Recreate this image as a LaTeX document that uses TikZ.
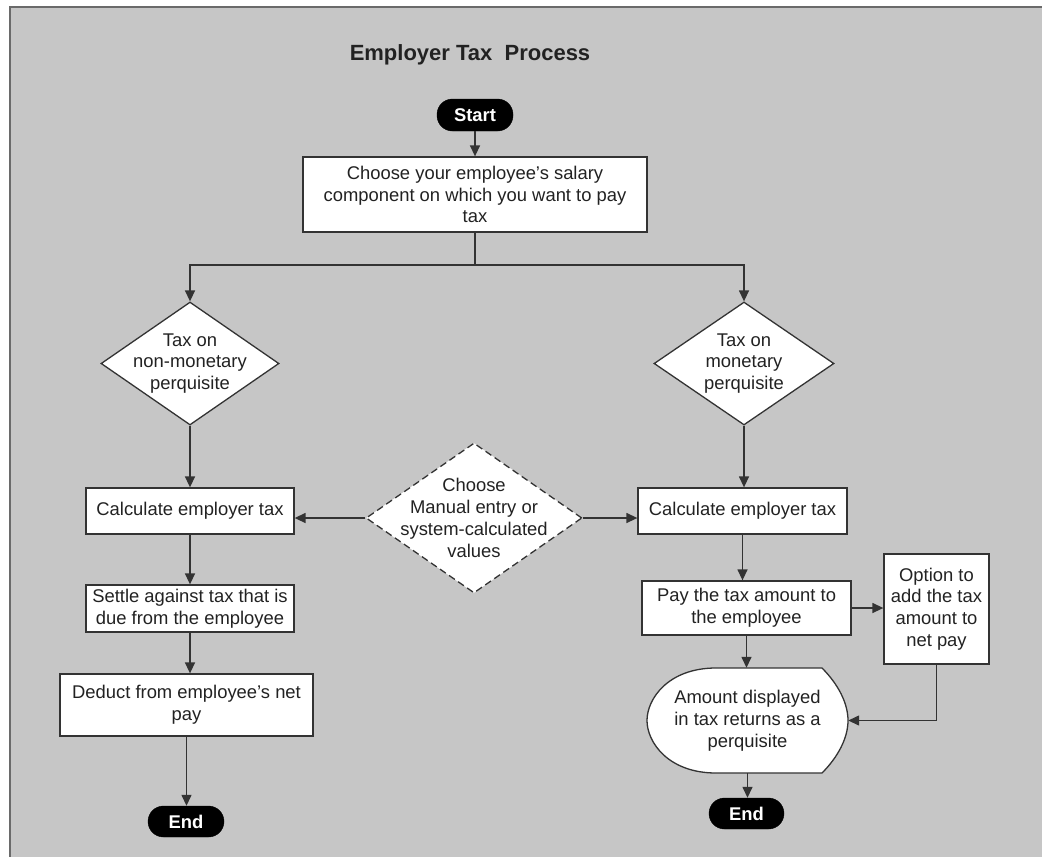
\documentclass[tikz,border=0pt]{standalone}
\usepackage{fontspec}
\setmainfont{Liberation Sans}
\usetikzlibrary{arrows.meta,shapes.geometric,calc}
\definecolor{bgc}{HTML}{C6C6C6}
\definecolor{lnc}{HTML}{333333}
\definecolor{framec}{HTML}{6A6A6A}
\definecolor{txc}{HTML}{222222}
\begin{document}
\begin{tikzpicture}[x=1pt,y=-1pt,
  body/.style={font=\fontsize{18.4}{21.8}\selectfont, text=txc, align=center},
  box/.style={body, draw=lnc, line width=1.3pt, fill=white, inner sep=0pt},
  pill/.style={draw=black, fill=black, rounded corners=15.5pt, text=white,
    font=\bfseries\fontsize{18.4}{21.6}\selectfont, inner sep=0pt,
    minimum width=76pt, minimum height=32pt},
  dia/.style={diamond, draw=lnc, line width=1.3pt, fill=white, inner sep=0pt},
  arr/.style={draw=lnc, line width=1.4pt, -{Triangle[length=11pt,width=10pt]}},
  conn/.style={draw=lnc, line width=1.4pt}
]
\useasboundingbox (0,0) rectangle (1042,857);
\fill[white] (0,0) rectangle (1042,857);
\fill[bgc] (10,7) rectangle (1042,857);
\draw[framec, line width=2pt] (10,857) -- (10,7) -- (1042,7);

% title
\node[font=\bfseries\fontsize{22}{26}\selectfont, text=txc, anchor=base] (title) at (470,60) {Employer Tax\ \ Process};

% top
\node[pill] (start) at (475,115) {Start};
\node[box, minimum width=344pt, minimum height=75pt] (choose) at (475,194.5)
  {Choose your employee’s salary\\component on which you want to pay\\tax};
\coordinate (split) at (475,265);

% diamonds
\node[dia, minimum width=178pt, minimum height=123pt] (d1) at (190,363.5) {};
\node[body] at (d1) {Tax on\\non-monetary\\perquisite};
\node[dia, minimum width=180pt, minimum height=123pt] (d2) at (744,363.5) {};
\node[body] at (d2) {Tax on\\monetary\\perquisite};
\node[dia, dashed, dash pattern=on 7pt off 4pt, minimum width=216pt, minimum height=150pt] (dd) at (474,518) {};
\node[body] at (dd) {Choose\\Manual entry or\\system-calculated\\values};

% left column
\node[box, minimum width=208pt, minimum height=46pt] (c1) at (190,511) {Calculate employer tax};
\node[box, minimum width=208pt, minimum height=47pt] (s1) at (190,608.5) {Settle against tax that is\\due from the employee};
\node[box, minimum width=253pt, minimum height=62pt] (de1) at (186.5,705) {Deduct from employee’s net\\pay};
\node[pill, minimum height=31pt] (end1) at (186,821.5) {End};

% right column
\node[box, minimum width=209pt, minimum height=46pt] (c2) at (742.5,511) {Calculate employer tax};
\node[box, minimum width=209pt, minimum height=54pt] (pay) at (746.5,608) {Pay the tax amount to\\the employee};
\node[box, minimum width=105pt, minimum height=110pt] (opt) at (936.5,609) {Option to\\add the tax\\amount to\\net pay};
\draw[lnc, line width=1.3pt, fill=white]
  (716,668) -- (822,668)
  .. controls (838,684) and (848,703) .. (848,720.5)
  .. controls (848,738) and (838,757) .. (822,773)
  -- (716,773)
  .. controls (668,773) and (647,742) .. (647,720.5)
  .. controls (647,699) and (668,668) .. (716,668) -- cycle;
\node[body, minimum width=201pt, minimum height=105pt, inner sep=0pt] (disp) at (747.5,720.5)
  {Amount displayed\\in tax returns as a\\perquisite};
\node[pill, minimum width=75pt, minimum height=31pt] (end2) at (746.5,813.5) {End};

% connectors
\draw[arr] (start) -- (choose);
\draw[conn] (choose.south) -- (split);
\draw[arr] (split) -| (d1.north);
\draw[arr] (split) -| (d2.north);
\draw[arr] (d1.south) -- (c1.north);
\draw[arr] (d2.south) -- (d2.south |- c2.north);
\draw[arr] (dd.west) -- (dd.west -| c1.east);
\draw[arr] (dd.east) -- (dd.east -| c2.west);
\draw[arr] (c1.south) -- (s1.north);
\draw[arr] (s1.south) -- (s1.south |- de1.north);
\draw[arr] (de1.south) -- (de1.south |- end1.north);
\draw[arr] (c2.south) -- (c2.south |- pay.north);
\draw[arr] (pay.south) -- (pay.south |- disp.north);
\draw[arr] (pay.east) -- (pay.east -| opt.west);
\draw[arr] (opt.south) |- (disp.east);
\draw[arr] (disp.south) -- (disp.south |- end2.north);
\end{tikzpicture}
\end{document}
